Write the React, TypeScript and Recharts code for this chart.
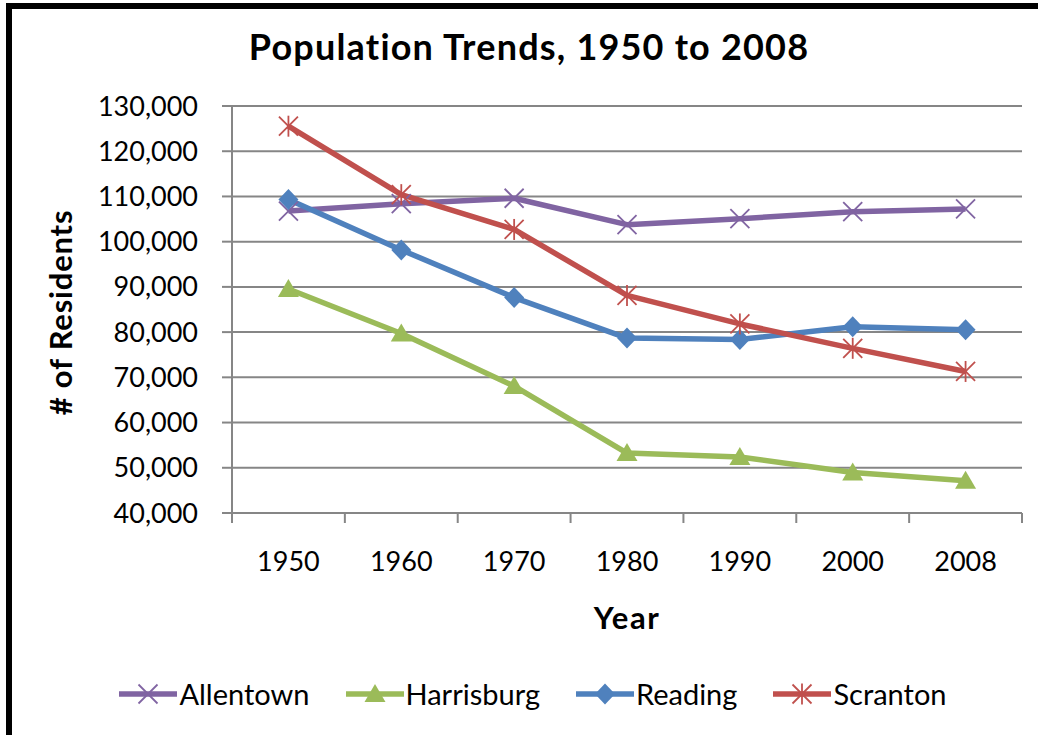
import { LineChart, Line, XAxis, YAxis, CartesianGrid, Legend } from 'recharts';

const years = ['1950', '1960', '1970', '1980', '1990', '2000', '2008'];
const allentown = [106756, 108400, 109600, 103758, 105090, 106632, 107250];
const harrisburg = [89544, 79697, 68061, 53264, 52376, 48950, 47148];
const reading = [109320, 98177, 87643, 78686, 78380, 81207, 80506];
const scranton = [125536, 110400, 102700, 88117, 81805, 76415, 71300];

const yTicks = [40000, 50000, 60000, 70000, 80000, 90000, 100000, 110000, 120000, 130000];
// whole numbers = category borders (tick marks), halves = category centres (labels)
const xTicks = [0, 0.5, 1, 1.5, 2, 2.5, 3, 3.5, 4, 4.5, 5, 5.5, 6, 6.5, 7];

const FONT = 'Lato, "Open Sans", sans-serif';
const GRID = '#868686';

type Kind = 'x' | 'triangle' | 'diamond' | 'star';

const series: { key: string; values: number[]; color: string; marker: Kind }[] = [
  { key: 'Allentown', values: allentown, color: '#8064A2', marker: 'x' },
  { key: 'Harrisburg', values: harrisburg, color: '#9BBB59', marker: 'triangle' },
  { key: 'Reading', values: reading, color: '#4F81BD', marker: 'diamond' },
  { key: 'Scranton', values: scranton, color: '#C0504D', marker: 'star' },
];

const data = years.map((year, i) => {
  const row: Record<string, number | string> = { pos: i + 0.5, year };
  series.forEach((s) => {
    row[s.key] = s.values[i];
  });
  return row;
});

function Marker({ kind, cx, cy, color }: { kind: Kind; cx: number; cy: number; color: string }) {
  const s = 9.5;
  if (kind === 'x' || kind === 'star') {
    return (
      <g stroke={color} strokeWidth={1.8} fill="none">
        <line x1={cx - s} y1={cy - s} x2={cx + s} y2={cy + s} />
        <line x1={cx - s} y1={cy + s} x2={cx + s} y2={cy - s} />
        {kind === 'star' && <line x1={cx} y1={cy - s - 1} x2={cx} y2={cy + s + 1} />}
      </g>
    );
  }
  if (kind === 'diamond') {
    return <polygon points={`${cx},${cy - 10.5} ${cx + 10},${cy} ${cx},${cy + 10.5} ${cx - 10},${cy}`} fill={color} />;
  }
  return <polygon points={`${cx},${cy - 10} ${cx + 10.5},${cy + 8} ${cx - 10.5},${cy + 8}`} fill={color} />;
}

function XTick(props: any) {
  const { x, y, payload } = props;
  const v = payload.value as number;
  if (Number.isInteger(v)) {
    return <line x1={x} x2={x} y1={y} y2={y + 10} stroke={GRID} strokeWidth={2} />;
  }
  return (
    <text x={x} y={y + 58} textAnchor="middle" fontFamily={FONT} fontSize={27} fill="#000">
      {years[Math.floor(v)]}
    </text>
  );
}

function YLabel(props: any) {
  const vb = props.viewBox;
  const cx = vb.x + 72;
  const cy = vb.y + vb.height / 2 + 3;
  return (
    <text
      x={cx}
      y={cy}
      transform={`rotate(-90, ${cx}, ${cy})`}
      textAnchor="middle"
      fontFamily={FONT}
      fontWeight="bold"
      fontSize={31}
      letterSpacing={0.8}
      fill="#000"
    >
      # of Residents
    </text>
  );
}

function XLabel(props: any) {
  const vb = props.viewBox;
  return (
    <text
      x={vb.x + vb.width / 2}
      y={vb.y + 116}
      textAnchor="middle"
      fontFamily={FONT}
      fontWeight="bold"
      fontSize={31}
      letterSpacing={1.5}
      fill="#000"
    >
      Year
    </text>
  );
}

function LegendContent(props: any) {
  const items = props.payload || [];
  return (
    <div style={{ display: 'flex', justifyContent: 'center', fontFamily: FONT, fontSize: 29, color: '#000' }}>
      {items.map((entry: any) => {
        const s = series.find((it) => it.key === entry.dataKey) || series[0];
        return (
          <div key={s.key} style={{ display: 'flex', alignItems: 'center', margin: '0 18px', height: 30, lineHeight: '30px' }}>
            <svg width={58} height={30} style={{ marginRight: 2 }}>
              <line x1={0} x2={58} y1={15} y2={15} stroke={s.color} strokeWidth={5.5} />
              <Marker kind={s.marker} cx={29} cy={15} color={s.color} />
            </svg>
            <span>{entry.value}</span>
          </div>
        );
      })}
    </div>
  );
}

export default function App() {
  return (
    <div style={{ position: 'absolute', left: 0, top: 0, width: 1038, height: 735, background: '#fff', overflow: 'hidden' }}>
      <div
        style={{
          position: 'absolute',
          left: 6,
          top: 3,
          width: 1032,
          height: 732,
          borderTop: '6px solid #000',
          borderLeft: '6px solid #000',
          boxSizing: 'border-box',
        }}
      />
      <div
        style={{
          position: 'absolute',
          left: 179,
          top: 24,
          width: 700,
          textAlign: 'center',
          fontFamily: FONT,
          fontWeight: 'bold',
          fontSize: 36,
          letterSpacing: 1.2,
          lineHeight: '44px',
          color: '#000',
        }}
      >
        Population Trends, 1950 to 2008
      </div>
      <div style={{ position: 'absolute', left: 0, top: 0 }}>
        <LineChart width={1038} height={735} data={data} margin={{ top: 106, right: 16, left: 0, bottom: 0 }}>
          <CartesianGrid horizontal vertical={false} stroke={GRID} strokeWidth={2} />
          <XAxis
            dataKey="pos"
            type="number"
            domain={[0, 7]}
            ticks={xTicks}
            interval={0}
            height={222}
            tickSize={0}
            tickMargin={0}
            tickLine={false}
            axisLine={{ stroke: GRID, strokeWidth: 2 }}
            tick={<XTick />}
            label={<XLabel />}
          />
          <YAxis
            type="number"
            domain={[40000, 130000]}
            ticks={yTicks}
            interval={0}
            width={232}
            tickSize={10}
            tickMargin={24}
            tickLine={{ stroke: GRID, strokeWidth: 2 }}
            axisLine={{ stroke: GRID, strokeWidth: 2 }}
            tick={{ fontFamily: FONT, fontSize: 27, fill: '#000' }}
            tickFormatter={(v: number) => v.toLocaleString('en-US')}
            label={<YLabel />}
          />
          <Legend
            layout="horizontal"
            verticalAlign="middle"
            align="center"
            wrapperStyle={{ left: 28, top: 679, width: 1010 }}
            content={<LegendContent />}
          />
          {series.map((s) => (
            <Line
              key={s.key}
              dataKey={s.key}
              name={s.key}
              type="linear"
              stroke={s.color}
              strokeWidth={5.5}
              strokeLinejoin="round"
              isAnimationActive={false}
              activeDot={false}
              dot={(p: any) => <Marker key={`${s.key}-${p.index}`} kind={s.marker} cx={p.cx} cy={p.cy} color={s.color} />}
            />
          ))}
        </LineChart>
      </div>
    </div>
  );
}
